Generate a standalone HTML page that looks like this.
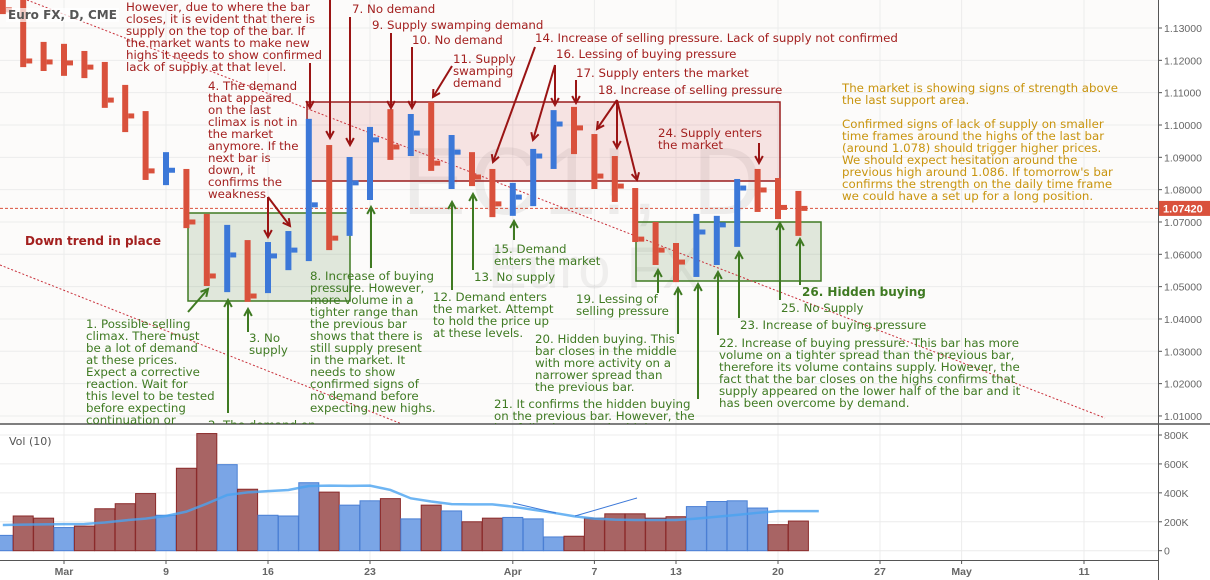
<!DOCTYPE html>
<html><head><meta charset="utf-8">
<style>
html,body{margin:0;padding:0;}
body{width:1210px;height:580px;overflow:hidden;background:#fff;position:relative;font-family:"DejaVu Sans","Liberation Sans",sans-serif;}
svg{position:absolute;left:0;top:0;}
.a{position:absolute;font-size:11.8px;line-height:12px;white-space:pre;font-family:"DejaVu Sans","Liberation Sans",sans-serif;}
.r{color:#a3201f;}
.g{color:#3f7a22;}
.o{color:#c8940e;}
#clip{position:absolute;left:0;top:0;width:1158px;height:424px;overflow:hidden;}
</style></head><body>
<svg id="chart" width="1210" height="580"></svg>
<div id="clip">
<div class="a r" style="left:126px;top:1px">However, due to where the bar
closes, it is evident that there is
supply on the top of the bar. If
the market wants to make new
highs it needs to show confirmed
lack of supply at that level.</div>
<div class="a r" style="left:352px;top:3px">7. No demand</div>
<div class="a r" style="left:372px;top:19px">9. Supply swamping demand</div>
<div class="a r" style="left:412px;top:34px">10. No demand</div>
<div class="a r" style="left:453px;top:53px">11. Supply
swamping
demand</div>
<div class="a r" style="left:535px;top:32px">14. Increase of selling pressure. Lack of supply not confirmed</div>
<div class="a r" style="left:556px;top:48px">16. Lessing of buying pressure</div>
<div class="a r" style="left:576px;top:67px">17. Supply enters the market</div>
<div class="a r" style="left:598px;top:84px">18. Increase of selling pressure</div>
<div class="a r" style="left:658px;top:127px">24. Supply enters
the market</div>
<div class="a r" style="left:208px;top:80px">4. The demand
that appeared
on the last
climax is not in
the market
anymore. If the
next bar is
down, it
confirms the
weakness</div>
<div class="a r" style="left:25px;top:235px;font-weight:bold;font-size:12px">Down trend in place</div>
<div class="a g" style="left:86px;top:318px">1. Possible selling
climax. There must
be a lot of demand
at these prices.
Expect a corrective
reaction. Wait for
this level to be tested
before expecting
continuation or</div>
<div class="a g" style="left:208px;top:419px">2. The demand on</div>
<div class="a g" style="left:249px;top:332px">3. No
supply</div>
<div class="a g" style="left:310px;top:270px">8. Increase of buying
pressure. However,
more volume in a
tighter range than
the previous bar
shows that there is
still supply present
in the market. It
needs to show
confirmed signs of
no demand before
expecting new highs.</div>
<div class="a g" style="left:433px;top:291px">12. Demand enters
the market. Attempt
to hold the price up
at these levels.</div>
<div class="a g" style="left:474px;top:271px">13. No supply</div>
<div class="a g" style="left:494px;top:243px">15. Demand
enters the market</div>
<div class="a g" style="left:576px;top:293px">19. Lessing of
selling pressure</div>
<div class="a g" style="left:535px;top:333px">20. Hidden buying. This
bar closes in the middle
with more activity on a
narrower spread than
the previous bar.</div>
<div class="a g" style="left:494px;top:398px">21. It confirms the hidden buying
on the previous bar. However, the
bar following must be higher</div>
<div class="a g" style="left:719px;top:337px">22. Increase of buying pressure. This bar has more
volume on a tighter spread than the previous bar,
therefore its volume contains supply. However, the
fact that the bar closes on the highs confirms that
supply appeared on the lower half of the bar and it
has been overcome by demand.</div>
<div class="a g" style="left:740px;top:319px">23. Increase of buying pressure</div>
<div class="a g" style="left:781px;top:302px">25. No Supply</div>
<div class="a g" style="left:802px;top:286px;font-weight:bold;font-size:12px">26. Hidden buying</div>
<div class="a o" style="left:842px;top:82px">The market is showing signs of strength above
the last support area.

Confirmed signs of lack of supply on smaller
time frames around the highs of the last bar
(around 1.078) should trigger higher prices.
We should expect hesitation around the
previous high around 1.086. If tomorrow's bar
confirms the strength on the daily time frame
we could have a set up for a long position.</div>
</div>
<div style="position:absolute;left:6px;top:8px;font:bold 12px 'DejaVu Sans',sans-serif;color:#555;background:rgba(255,255,255,0.7);padding:0 2px">Euro FX, D, CME</div>
<div style="position:absolute;left:9px;top:435px;font:11px 'DejaVu Sans',sans-serif;color:#555">Vol (10)</div>
<script>
const highs=[1.1387,1.1387,1.1257,1.1251,1.1229,1.1195,1.1124,1.1043,1.0916,1.0864,1.0725,1.0691,1.0644,1.0638,1.0672,1.1019,1.0938,1.0901,1.0994,1.1049,1.1034,1.1071,1.0969,1.0916,1.0864,1.0821,1.0926,1.1046,1.1056,1.0972,1.0904,1.0805,1.0700,1.0635,1.0725,1.0719,1.0833,1.0864,1.0836,1.0796];
const lows=[1.1343,1.1179,1.1167,1.1152,1.1145,1.1053,1.0978,1.0830,1.0814,1.0681,1.0502,1.0483,1.0453,1.0480,1.0551,1.0579,1.0613,1.0657,1.0768,1.0892,1.0904,1.0858,1.0802,1.0811,1.0715,1.0719,1.0749,1.0864,1.0910,1.0802,1.0762,1.0638,1.0567,1.0514,1.0530,1.0567,1.0623,1.0731,1.0709,1.0657];
const closes=[1.1356,1.1198,1.1195,1.1192,1.1179,1.1077,1.1028,1.0858,1.0860,1.0700,1.0533,1.0598,1.0471,1.0595,1.0613,1.0753,1.0650,1.0821,1.0954,1.0932,1.0975,1.0882,1.0916,1.0839,1.0756,1.0777,1.0904,1.1003,1.0991,1.0842,1.0811,1.0647,1.0613,1.0576,1.0669,1.0691,1.0805,1.0799,1.0745,1.0742];
const volumes=[106,240,225,160,170,290,325,395,245,570,810,595,425,245,240,470,405,315,345,360,220,315,275,200,225,230,220,95,100,225,255,255,225,235,305,340,345,295,180,205];
const volUp=[1,0,0,1,0,0,0,0,1,0,0,1,0,1,1,1,0,1,1,0,1,0,1,0,0,1,1,1,0,0,0,0,0,0,1,1,1,1,0,0];
const volMA=[178,180,182,184,185,195,210,222,240,270,325,385,403,412,420,447,450,448,450,420,362,340,322,320,320,305,283,262,238,222,215,212,212,212,222,235,248,262,274,274,274];
const priceTicks=[1.13,1.12,1.11,1.10,1.09,1.08,1.07,1.06,1.05,1.04,1.03,1.02,1.01];
const volTicks=[0,200,400,600,800];
const dateLabels=["Mar","9","16","23","Apr","7","13","20","27","May","11"];
const dateIdx=[3,8,13,18,25,29,33,38,43,47,53];
const lastPrice=1.0742;

const NS="http://www.w3.org/2000/svg";
const svg=document.getElementById('chart');
const X=i=>2.8+20.4*i;
const Y=p=>28+(1.13-p)*3233;
const VY=v=>550.7-v/800*115.7;
function mk(tag,attrs,parent){const e=document.createElementNS(NS,tag);for(const k in attrs)e.setAttribute(k,attrs[k]);(parent||svg).appendChild(e);return e;}

let e=mk('rect',{x:0,y:0,width:1158,height:424,fill:'#fcfbfa'});


e=mk('rect',{x:0,y:424,width:1158,height:136,fill:'#fff'});


priceTicks.forEach(p=>{e=mk('line',{x1:0,x2:1158,y1:Y(p),y2:Y(p),stroke:'#ececec','stroke-width':1});

});
volTicks.forEach(v=>{e=mk('line',{x1:0,x2:1158,y1:VY(v),y2:VY(v),stroke:'#ececec','stroke-width':1});

});
dateIdx.forEach(i=>{e=mk('line',{x1:X(i),x2:X(i),y1:0,y2:560,stroke:'#ececec','stroke-width':1});

});
e=mk('text',{x:402,y:214,'font-size':96,'font-family':'Liberation Sans, sans-serif',fill:'rgba(0,0,0,0.06)',textLength:360});
e.textContent='EC1!, D';


e=mk('text',{x:488,y:288,'font-size':58,'font-family':'Liberation Sans, sans-serif',fill:'rgba(0,0,0,0.05)'});
e.textContent='Euro FX';


e=mk('rect',{x:307,y:102,width:473,height:79,fill:'rgba(205,70,70,0.13)',stroke:'#9a1c1c','stroke-width':1.5});


e=mk('rect',{x:188,y:213,width:162,height:88,fill:'rgba(70,120,50,0.15)',stroke:'#3f7a22','stroke-width':1.5});


e=mk('rect',{x:636,y:222,width:185,height:59,fill:'rgba(70,120,50,0.15)',stroke:'#3f7a22','stroke-width':1.5});


e=mk('line',{x1:27,y1:0,x2:1105,y2:418,stroke:'#c9303a','stroke-width':1,'stroke-dasharray':'2,2'});


e=mk('line',{x1:0,y1:265,x2:402,y2:424,stroke:'#c9303a','stroke-width':1,'stroke-dasharray':'2,2'});


e=mk('line',{x1:0,x2:1158,y1:Y(lastPrice),y2:Y(lastPrice),stroke:'#d9513c','stroke-width':1,'stroke-dasharray':'3,2'});


for(let i=0;i<closes.length;i++){
  const up=i>0?closes[i]>=closes[i-1]:false;
  const col=up?'#3c78d8':'#d9513c';
  const x=X(i);
  e=mk('rect',{x:x-3,y:Y(highs[i]),width:6,height:Y(lows[i])-Y(highs[i]),fill:col});
  
  
  e=mk('rect',{x:x+3,y:Y(closes[i])-2.5,width:6,height:5,fill:col});
  
  
}
function arrow(x1,y1,x2,y2,col,name){
  const g=mk('g',{stroke:col,'stroke-width':2,fill:'none'});
  
  
  mk('line',{x1,y1,x2,y2},g);
  const a=Math.atan2(y2-y1,x2-x1),L=8,s=0.5;
  mk('polyline',{points:`${x2-L*Math.cos(a-s)},${y2-L*Math.sin(a-s)} ${x2},${y2} ${x2-L*Math.cos(a+s)},${y2-L*Math.sin(a+s)}`},g);
}
const R='#9a1414',G='#3f7a22';
arrow(310,63,310,108,R,'arrow-4-top');arrow(330,0,330,138,R,'arrow-5');arrow(350,17,350,145,R,'arrow-7');
arrow(391,33,391,108,R,'arrow-9');arrow(412,47,412,108,R,'arrow-10');arrow(452,66,433,97,R,'arrow-11');
arrow(535,47,493,162,R,'arrow-14');arrow(555,65,555,105,R,'arrow-16a');arrow(555,65,533,140,R,'arrow-16b');
arrow(576,80,576,103,R,'arrow-17');arrow(617,100,597,129,R,'arrow-18a');arrow(617,100,617,148,R,'arrow-18b');arrow(617,100,637,180,R,'arrow-18c');
arrow(759,143,759,163,R,'arrow-24');arrow(268,197,268,237,R,'arrow-4a');arrow(268,197,290,226,R,'arrow-4b');
arrow(188,312,208,289,G,'arrow-1');arrow(228,413,228,300,G,'arrow-2');arrow(248,332,248,309,G,'arrow-3');
arrow(371,268,371,207,G,'arrow-8');arrow(452,290,452,202,G,'arrow-12');arrow(473,270,473,194,G,'arrow-13');
arrow(514,240,514,221,G,'arrow-15');arrow(658,293,658,270,G,'arrow-19');arrow(678,334,678,288,G,'arrow-20');
arrow(698,399,698,284,G,'arrow-21');arrow(718,335,718,272,G,'arrow-22');arrow(739,318,739,252,G,'arrow-23');
arrow(780,300,780,223,G,'arrow-25');arrow(800,285,800,239,G,'arrow-26');
for(let i=0;i<volumes.length;i++){
  const x=X(i);
  e=mk('rect',{x:x-10,y:VY(volumes[i]),width:20,height:VY(0)-VY(volumes[i]),fill:volUp[i]?'#7aa5e6':'#a86464',stroke:volUp[i]?'#4a7fd4':'#8b2a2a','stroke-width':1});
  
  
}
e=mk('polyline',{points:volMA.map((v,i)=>`${X(i)},${VY(v)}`).join(' '),fill:'none',stroke:'#4aa3f0','stroke-width':2.5,opacity:0.8});


e=mk('line',{x1:513,y1:503,x2:556,y2:513,stroke:'#3c78d8','stroke-width':1});


e=mk('line',{x1:575,y1:516,x2:637,y2:498,stroke:'#3c78d8','stroke-width':1});


e=mk('rect',{x:1158,y:0,width:52,height:580,fill:'#fff'});


e=mk('rect',{x:0,y:561,width:1158,height:19,fill:'#fff'});


mk('line',{x1:1158.5,x2:1158.5,y1:0,y2:580,stroke:'#555','stroke-width':1});
mk('line',{x1:0,x2:1210,y1:424,y2:424,stroke:'#555','stroke-width':1.5});
mk('line',{x1:0,x2:1158,y1:560.5,y2:560.5,stroke:'#555','stroke-width':1});
priceTicks.forEach(p=>{
  mk('line',{x1:1158,x2:1162,y1:Y(p),y2:Y(p),stroke:'#555'});
  e=mk('text',{x:1164,y:Y(p)+4,'font-size':10.5,'font-family':'Liberation Sans, sans-serif',fill:'#666'});
  e.textContent=p.toFixed(5);
  
  
});
volTicks.forEach(v=>{
  mk('line',{x1:1158,x2:1162,y1:VY(v),y2:VY(v),stroke:'#555'});
  e=mk('text',{x:1164,y:VY(v)+4,'font-size':10.5,'font-family':'Liberation Sans, sans-serif',fill:'#666'});
  e.textContent=v===0?'0':v+'K';
  
  
});
dateLabels.forEach((d,k)=>{
  const x=X(dateIdx[k]);
  mk('line',{x1:x,x2:x,y1:560,y2:564,stroke:'#555'});
  e=mk('text',{x:x,y:575,'font-size':10.5,'font-weight':'bold','text-anchor':'middle','font-family':'Liberation Sans, sans-serif',fill:'#666'});
  e.textContent=d;
  
  
});
e=mk('rect',{x:1159,y:Y(lastPrice)-7.5,width:51,height:15,fill:'#d9513c'});


e=mk('text',{x:1163,y:Y(lastPrice)+4,'font-size':11,'font-weight':'bold','font-family':'Liberation Sans, sans-serif',fill:'#fff'});
e.textContent=lastPrice.toFixed(5);


</script>
</body></html>
